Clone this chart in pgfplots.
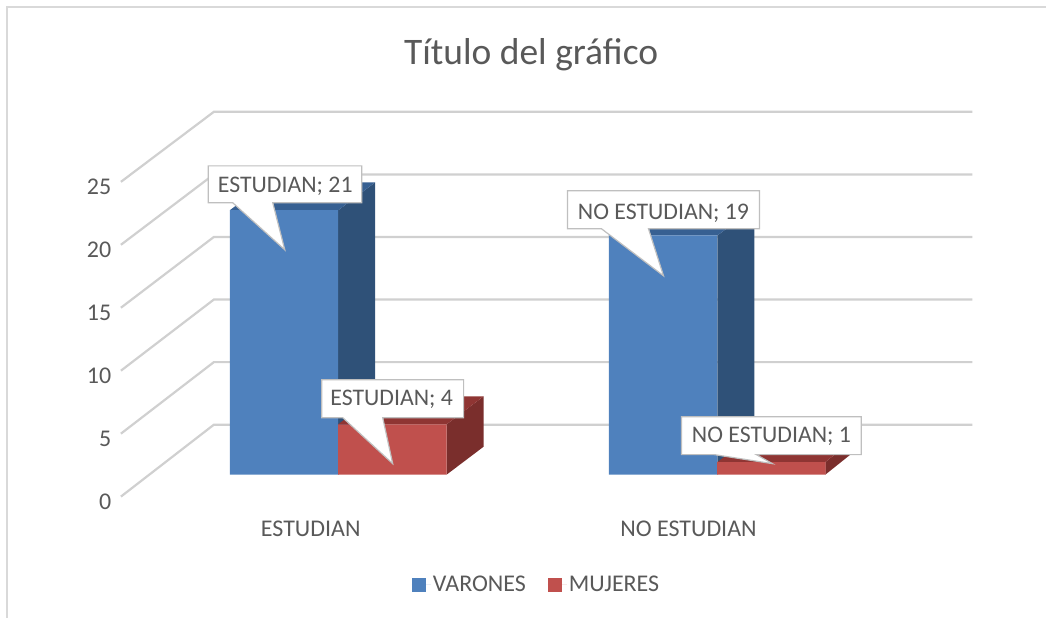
\documentclass[border=0pt]{standalone}
\usepackage{pgfplots}
\pgfplotsset{compat=1.18}
\usepackage{fontspec}
\setmainfont{Carlito}
\definecolor{txt}{HTML}{595959}
\definecolor{gridc}{HTML}{D0D0D0}
\definecolor{framec}{HTML}{D9D9D9}
\definecolor{bluef}{HTML}{4F81BD}
\definecolor{blues}{HTML}{2F5178}
\definecolor{bluet}{HTML}{376092}
\definecolor{redf}{HTML}{C0504D}
\definecolor{reds}{HTML}{7A2E2C}
\definecolor{redt}{HTML}{8F3533}
\definecolor{callb}{HTML}{BFBFBF}
\begin{document}
\begin{tikzpicture}
% ---- walls and value axis: y = value, 0 at pixel row 497
\begin{axis}[
  at={(112pt,0pt)}, anchor=south west, scale only axis,
  width=935pt, height=618pt,
  xmin=112, xmax=1047, ymin=-9.603, ymax=39.444,
  axis line style={draw=none}, tick style={draw=none},
  axis x line=none, axis y line=left,
  ytick={0,5,10,15,20,25},
  tick label style={font=\fontsize{24}{24}\selectfont, text=txt},
  yticklabel style={yshift=-5pt, xshift=5pt},
  /pgf/number format/assume math mode=true,
  clip=false]
\addplot[gridc,line width=2.2pt] coordinates {(121,0)(214,5.71)(973,5.71)};
\addplot[gridc,line width=2.2pt] coordinates {(121,5)(214,10.68)(973,10.68)};
\addplot[gridc,line width=2.2pt] coordinates {(121,10)(214,15.65)(973,15.65)};
\addplot[gridc,line width=2.2pt] coordinates {(121,15)(214,20.62)(973,20.62)};
\addplot[gridc,line width=2.2pt] coordinates {(121,20)(214,25.59)(973,25.59)};
\addplot[gridc,line width=2.2pt] coordinates {(121,25)(214,30.56)(973,30.56)};
\end{axis}
% ---- bars: y = value, 0 at pixel row 475
\begin{axis}[
  at={(0pt,0pt)}, anchor=south west, scale only axis,
  width=1047pt, height=618pt,
  xmin=0, xmax=1047, ymin=-11.349, ymax=37.698,
  axis line style={draw=none}, tick style={draw=none},
  axis y line=none, axis x line=bottom,
  xtick={311,689},
  xticklabels={ESTUDIAN,NO ESTUDIAN},
  xticklabel style={font=\fontsize{24}{24}\selectfont, text=txt, yshift=102pt},
  legend style={at={(axis cs:537,-8.75)},anchor=center,draw=none,fill=none,
    legend columns=2,font=\fontsize{24}{24}\selectfont\color{txt},
    /tikz/every even column/.append style={column sep=20pt}},
  legend cell align=left,
  legend image code/.code={\fill[#1] (0pt,-7pt) rectangle (14pt,7pt);\path (0pt,0pt) -- (19pt,0pt);}
]
% VARONES
\addplot[blues,fill=blues,draw=none,forget plot] coordinates {(338.5,0)(375.5,2.22)(375.5,23.22)(338.5,21)} -- cycle;
\addplot[bluet,fill=bluet,draw=none,forget plot] coordinates {(230,21)(267,23.22)(375.5,23.22)(338.5,21)} -- cycle;
\addplot[blues,fill=blues,draw=none,forget plot] coordinates {(718,0)(755,2.22)(755,21.22)(718,19)} -- cycle;
\addplot[bluet,fill=bluet,draw=none,forget plot] coordinates {(609,19)(646,21.22)(755,21.22)(718,19)} -- cycle;
\addplot[ybar,bar width=108.5,bar shift=0pt,fill=bluef,draw=none] coordinates {(284.25,21)(663.5,19)};
\addlegendentry{VARONES}
% MUJERES
\addplot[reds,fill=reds,draw=none,forget plot] coordinates {(447,0)(484,2.22)(484,6.22)(447,4)} -- cycle;
\addplot[redt,fill=redt,draw=none,forget plot] coordinates {(338.5,4)(375.5,6.22)(484,6.22)(447,4)} -- cycle;
\addplot[reds,fill=reds,draw=none,forget plot] coordinates {(826,0)(861,2.22)(861,3.22)(826,1)} -- cycle;
\addplot[redt,fill=redt,draw=none,forget plot] coordinates {(718,1)(755,3.22)(861,3.22)(826,1)} -- cycle;
\addplot[ybar,bar width=108.5,bar shift=0pt,fill=redf,draw=none] coordinates {(392.75,4)(772,1)};
\addlegendentry{MUJERES}
\end{axis}
% ---- overlay in pixel coordinates: frame, title, callouts
\begin{axis}[
  at={(0pt,0pt)}, anchor=south west, scale only axis,
  width=1047pt, height=618pt,
  xmin=0, xmax=1047, ymin=0, ymax=618, y dir=reverse,
  hide axis, clip=false]
\addplot[framec,line width=1.6pt] coordinates {(7,618)(7,7)(1047,7)};
\node[font=\fontsize{37.5}{37.5}\selectfont,text=txt] at (axis cs:531.5,55) {Título del gráfico};
\addplot[fill=white,draw=callb,line width=1.2pt] coordinates {(208.5,166)(362,166)(362,203)(273,203)(285,250)(233,203)(208.5,203)} -- cycle;
\node[font=\fontsize{23.8}{23.8}\selectfont,text=txt] at (axis cs:285.5,186) {ESTUDIAN; 21};
\addplot[fill=white,draw=callb,line width=1.2pt] coordinates {(322,380)(464,380)(464,418)(383,418)(393,464)(343,418)(322,418)} -- cycle;
\node[font=\fontsize{23.8}{23.8}\selectfont,text=txt] at (axis cs:392,400) {ESTUDIAN; 4};
\addplot[fill=white,draw=callb,line width=1.2pt] coordinates {(568,191)(760,191)(760,229)(649,229)(664,276)(602,229)(568,229)} -- cycle;
\node[font=\fontsize{23.8}{23.8}\selectfont,text=txt] at (axis cs:664,213) {NO ESTUDIAN; 19};
\addplot[fill=white,draw=callb,line width=1.2pt] coordinates {(682,417)(862,417)(862,455)(757,455)(773,464)(715,455)(682,455)} -- cycle;
\node[font=\fontsize{23.8}{23.8}\selectfont,text=txt] at (axis cs:772,437) {NO ESTUDIAN; 1};
\end{axis}
\end{tikzpicture}
\end{document}
